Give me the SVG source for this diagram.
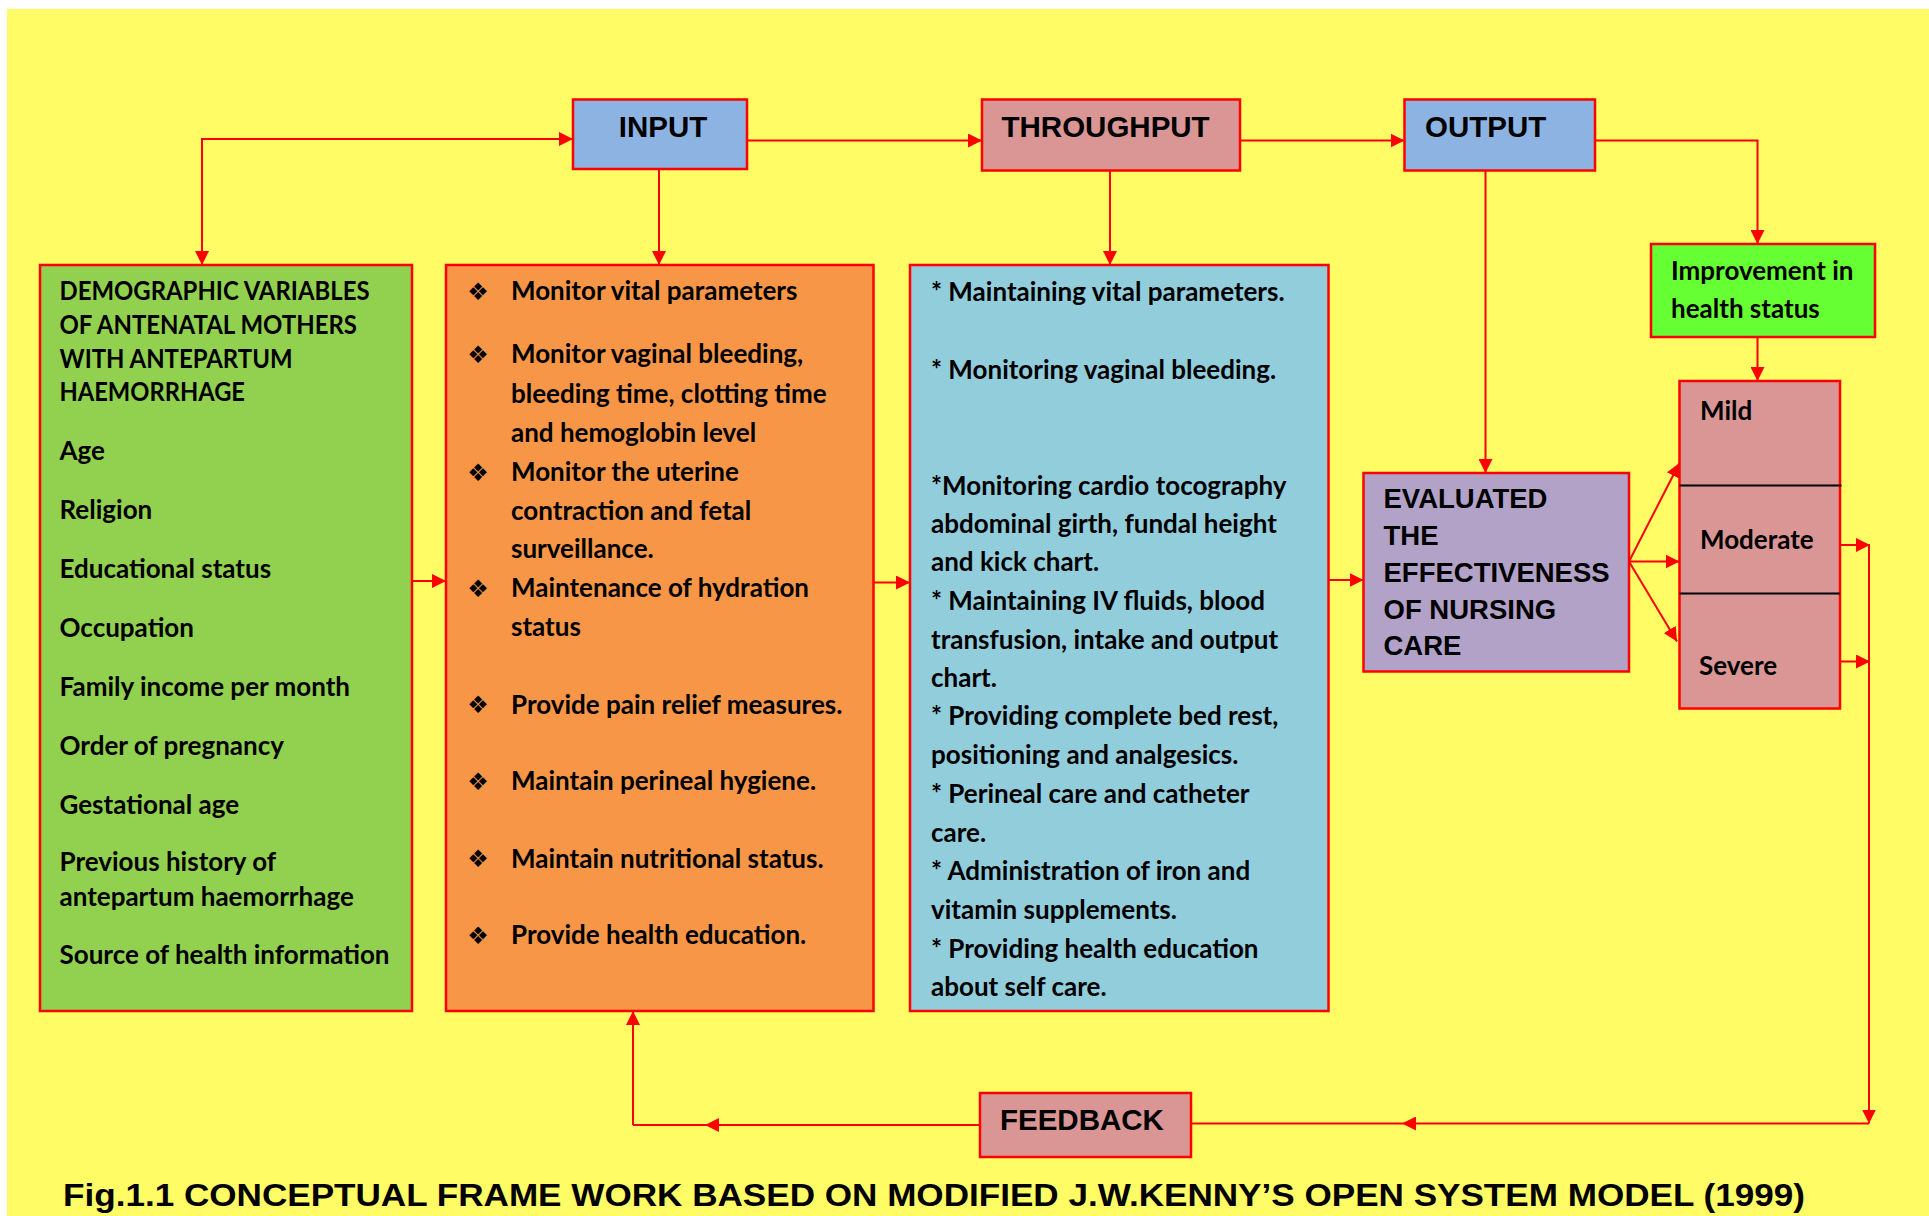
<svg xmlns="http://www.w3.org/2000/svg" width="1929" height="1216" viewBox="0 0 1929 1216">
<style>
.box{stroke:#FF0000;stroke-width:2.5}
.hd{font-family:"Liberation Sans",Arial,sans-serif;font-weight:bold;font-size:29.5px;fill:#000}
.ev{font-family:"Liberation Sans",Arial,sans-serif;font-weight:bold;font-size:27.5px;fill:#000}
.tx{font-family:Lato,"Open Sans",sans-serif;font-weight:bold;font-size:26px;fill:#000}
.tb{font-family:Lato,"Open Sans",sans-serif;font-weight:bold;font-size:26px;fill:#000}
.bu{font-family:"DejaVu Sans",sans-serif;font-size:24px;fill:#000}
.cn{fill:none;stroke:#FF0000;stroke-width:2}
.div{stroke:#000;stroke-width:2}
</style>
<defs>
<marker id="ah" viewBox="0 0 14 14" refX="14" refY="7" markerWidth="14" markerHeight="14" markerUnits="userSpaceOnUse" orient="auto-start-reverse">
<path d="M0,0 L14,7 L0,14 Z" fill="#FF0000"/>
</marker>
<marker id="am" viewBox="0 0 14 14" refX="7" refY="7" markerWidth="14" markerHeight="14" markerUnits="userSpaceOnUse" orient="auto">
<path d="M0,0 L14,7 L0,14 Z" fill="#FF0000"/>
</marker>
</defs>
<rect x="0" y="0" width="1929" height="1216" fill="#FFFFFF"/>
<rect x="7" y="9" width="1922" height="1207" fill="#FFFC66"/>

<g id="connectors">
<path class="cn" d="M202,265 L202,139 L573,139" marker-start="url(#ah)" marker-end="url(#ah)"/>
<path class="cn" d="M747,140.5 L982,140.5" marker-end="url(#ah)"/>
<path class="cn" d="M1240,140.5 L1404.5,140.5" marker-end="url(#ah)"/>
<path class="cn" d="M1595,140.5 L1757.5,140.5 L1757.5,244" marker-end="url(#ah)"/>
<path class="cn" d="M659,169 L659,265" marker-end="url(#ah)"/>
<path class="cn" d="M1110,171 L1110,265" marker-end="url(#ah)"/>
<path class="cn" d="M1485.5,169 L1485.5,473" marker-end="url(#ah)"/>
<path class="cn" d="M1757.5,337 L1757.5,381" marker-end="url(#ah)"/>
<path class="cn" d="M412,581 L446,581" marker-end="url(#ah)"/>
<path class="cn" d="M873,582.5 L910,582.5" marker-end="url(#ah)"/>
<path class="cn" d="M1328,580 L1363.5,580" marker-end="url(#ah)"/>
<path class="cn" d="M1629,561.5 L1679.5,463" marker-end="url(#ah)"/>
<path class="cn" d="M1629,561.5 L1679.5,561.5" marker-end="url(#ah)"/>
<path class="cn" d="M1629,561.5 L1677,641.5" marker-end="url(#ah)"/>
<path class="cn" d="M1840,545 L1870,545" marker-end="url(#ah)"/>
<path class="cn" d="M1840,661.5 L1870,661.5" marker-end="url(#ah)"/>
<path class="cn" d="M1869,545 L1869,1123.5" marker-end="url(#ah)"/>
<path class="cn" d="M1869,1123.5 L1409,1123.5 L1191,1123.5" marker-mid="url(#am)"/>
<path class="cn" d="M980,1125 L712,1125 L633,1125" marker-mid="url(#am)"/>
<path class="cn" d="M633,1125 L633,1011" marker-end="url(#ah)"/>
</g>

<g id="input">
<rect class="box" x="573" y="99.5" width="174" height="69.5" fill="#8DB3E2"/>
<text class="hd" x="663" y="137" text-anchor="middle">INPUT</text>
</g>
<g id="throughput">
<rect class="box" x="982" y="99.5" width="258" height="71" fill="#D99694"/>
<text class="hd" x="1001.5" y="137">THROUGHPUT</text>
</g>
<g id="output">
<rect class="box" x="1404.5" y="99.5" width="190.5" height="71" fill="#8DB3E2"/>
<text class="hd" x="1425" y="137">OUTPUT</text>
</g>

<g id="demographic">
<rect class="box" x="40" y="265" width="372" height="746" fill="#92D050"/>
<text class="tx" x="59.5" y="300" textLength="310" lengthAdjust="spacingAndGlyphs">DEMOGRAPHIC VARIABLES</text>
<text class="tx" x="59.5" y="333.5" textLength="297.5" lengthAdjust="spacingAndGlyphs">OF ANTENATAL MOTHERS</text>
<text class="tx" x="59.5" y="368" textLength="233" lengthAdjust="spacingAndGlyphs">WITH ANTEPARTUM</text>
<text class="tx" x="59.5" y="401" textLength="185.5" lengthAdjust="spacingAndGlyphs">HAEMORRHAGE</text>
<text class="tx" x="59.5" y="460">Age</text>
<text class="tx" x="59.5" y="519">Religion</text>
<text class="tx" x="59.5" y="577.5">Educational status</text>
<text class="tx" x="59.5" y="636.5">Occupation</text>
<text class="tx" x="59.5" y="696">Family income per month</text>
<text class="tx" x="59.5" y="755">Order of pregnancy</text>
<text class="tx" x="59.5" y="813.5">Gestational age</text>
<text class="tx" x="59.5" y="870.5">Previous history of</text>
<text class="tx" x="59.5" y="906">antepartum haemorrhage</text>
<text class="tx" x="59.5" y="963.5">Source of health information</text>
</g>

<g id="input-list">
<rect class="box" x="446" y="265" width="427.5" height="746" fill="#F79646"/>
<g class="bu" text-anchor="middle">
<text x="478" y="300">❖</text>
<text x="478" y="363">❖</text>
<text x="478" y="481">❖</text>
<text x="478" y="597">❖</text>
<text x="478" y="713">❖</text>
<text x="478" y="790">❖</text>
<text x="478" y="867">❖</text>
<text x="478" y="944">❖</text>
</g>
<text class="tx" x="511" y="300">Monitor vital parameters</text>
<text class="tx" x="511" y="363">Monitor vaginal bleeding,</text>
<text class="tx" x="511" y="403">bleeding time, clotting time</text>
<text class="tx" x="511" y="441.5">and hemoglobin level</text>
<text class="tx" x="511" y="480.5">Monitor the uterine</text>
<text class="tx" x="511" y="519.5">contraction and fetal</text>
<text class="tx" x="511" y="557.5">surveillance.</text>
<text class="tx" x="511" y="596.5">Maintenance of hydration</text>
<text class="tx" x="511" y="635.5">status</text>
<text class="tx" x="511" y="713.5">Provide pain relief measures.</text>
<text class="tx" x="511" y="790">Maintain perineal hygiene.</text>
<text class="tx" x="511" y="867.5">Maintain nutritional status.</text>
<text class="tx" x="511" y="944">Provide health education.</text>
</g>

<g id="throughput-list">
<rect class="box" x="910" y="265" width="418.5" height="746" fill="#92CDDC"/>
<text class="tb" x="931" y="300.5">* Maintaining vital parameters.</text>
<text class="tb" x="931" y="378.5">* Monitoring vaginal bleeding.</text>
<text class="tb" x="931" y="494.5">*Monitoring cardio tocography</text>
<text class="tb" x="931" y="532.5">abdominal girth, fundal height</text>
<text class="tb" x="931" y="571">and kick chart.</text>
<text class="tb" x="931" y="610">* Maintaining IV fluids, blood</text>
<text class="tb" x="931" y="648.5">transfusion, intake and output</text>
<text class="tb" x="931" y="686.5">chart.</text>
<text class="tb" x="931" y="725">* Providing complete bed rest,</text>
<text class="tb" x="931" y="764">positioning and analgesics.</text>
<text class="tb" x="931" y="802.5">* Perineal care and catheter</text>
<text class="tb" x="931" y="841.5">care.</text>
<text class="tb" x="931" y="880">* Administration of iron and</text>
<text class="tb" x="931" y="919">vitamin supplements.</text>
<text class="tb" x="931" y="957.5">* Providing health education</text>
<text class="tb" x="931" y="996">about self care.</text>
</g>

<g id="improvement">
<rect class="box" x="1651" y="244" width="224" height="93" fill="#66FF33"/>
<text class="tx" x="1671" y="280">Improvement in</text>
<text class="tx" x="1671" y="318">health status</text>
</g>

<g id="levels">
<rect class="box" x="1679.5" y="381" width="160.5" height="327.5" fill="#D99694"/>
<line class="div" x1="1679.5" y1="485.5" x2="1841.5" y2="485.5"/>
<line class="div" x1="1679.5" y1="593.5" x2="1840" y2="593.5"/>
<text class="tb" x="1700" y="420">Mild</text>
<text class="tb" x="1700" y="549">Moderate</text>
<text class="tb" x="1699" y="675">Severe</text>
</g>

<g id="evaluated">
<rect class="box" x="1363.5" y="473" width="265.5" height="198.5" fill="#B2A2C7"/>
<text class="ev" x="1383.5" y="508">EVALUATED</text>
<text class="ev" x="1383.5" y="545">THE</text>
<text class="ev" x="1383.5" y="582">EFFECTIVENESS</text>
<text class="ev" x="1383.5" y="619">OF NURSING</text>
<text class="ev" x="1383.5" y="655">CARE</text>
</g>

<g id="feedback">
<rect class="box" x="980" y="1093" width="211" height="64" fill="#D99694"/>
<text class="hd" x="1000" y="1130">FEEDBACK</text>
</g>

<text x="63" y="1206" font-family="'Liberation Sans',Arial,sans-serif" font-weight="bold" font-size="31.5" textLength="1742" lengthAdjust="spacingAndGlyphs" fill="#000">Fig.1.1 CONCEPTUAL FRAME WORK BASED ON MODIFIED J.W.KENNY’S OPEN SYSTEM MODEL (1999)</text>
</svg>
